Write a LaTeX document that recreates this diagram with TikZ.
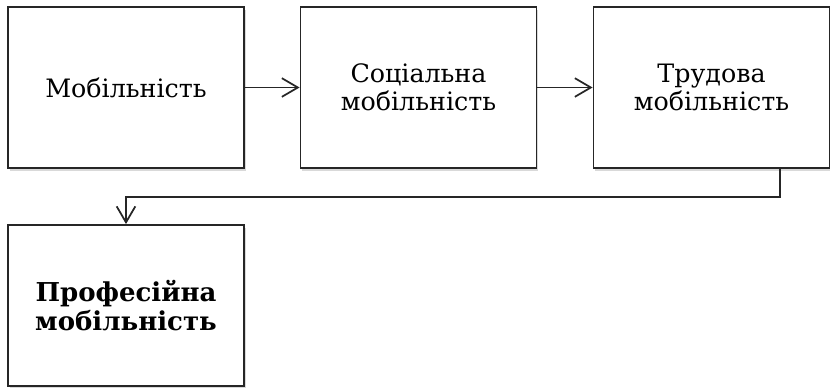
\documentclass[tikz,border=0pt]{standalone}
\usepackage{fontspec}
\setmainfont{DejaVu Serif}
\usetikzlibrary{arrows.meta, shadows}
\definecolor{wline}{HTML}{262626}

\tikzset{
  stage/.style={draw=wline, line width=1.4pt, fill=white, align=center,
    minimum width=177pt, minimum height=120.75pt, inner sep=0pt,
    font=\fontsize{19}{21}\selectfont,
    drop shadow={shadow xshift=1.4pt, shadow yshift=-2pt, opacity=0.3}},
  flow/.style={draw=wline, line width=1.4pt,
    -{Straight Barb[length=12pt, width=14pt, line width=1.3pt]}}
}

\begin{document}
\begin{tikzpicture}[x=0.75pt, y=-0.75pt]
  \useasboundingbox (0,0) rectangle (830,387);

  \node[stage] at (126, 87.5)(b1){Мобільність};
  \node[stage] at (418.5, 87.5)(b2){Соціальна\\мобільність};
  \node[stage] at (711.5, 87.5)(b3){Трудова\\мобільність};
  \node[stage, font=\fontsize{19.5}{21.75}\selectfont\bfseries] at (126, 305.5)(b4){Професійна\\мобільність};

  \coordinate (turn) at (780, 197);

  \draw[flow] (b1)--(b2);
  \draw[flow] (b2)--(b3);
  \draw[flow] (b3.south -| turn)--(turn) -| (b4.north);

\end{tikzpicture}
\end{document}
